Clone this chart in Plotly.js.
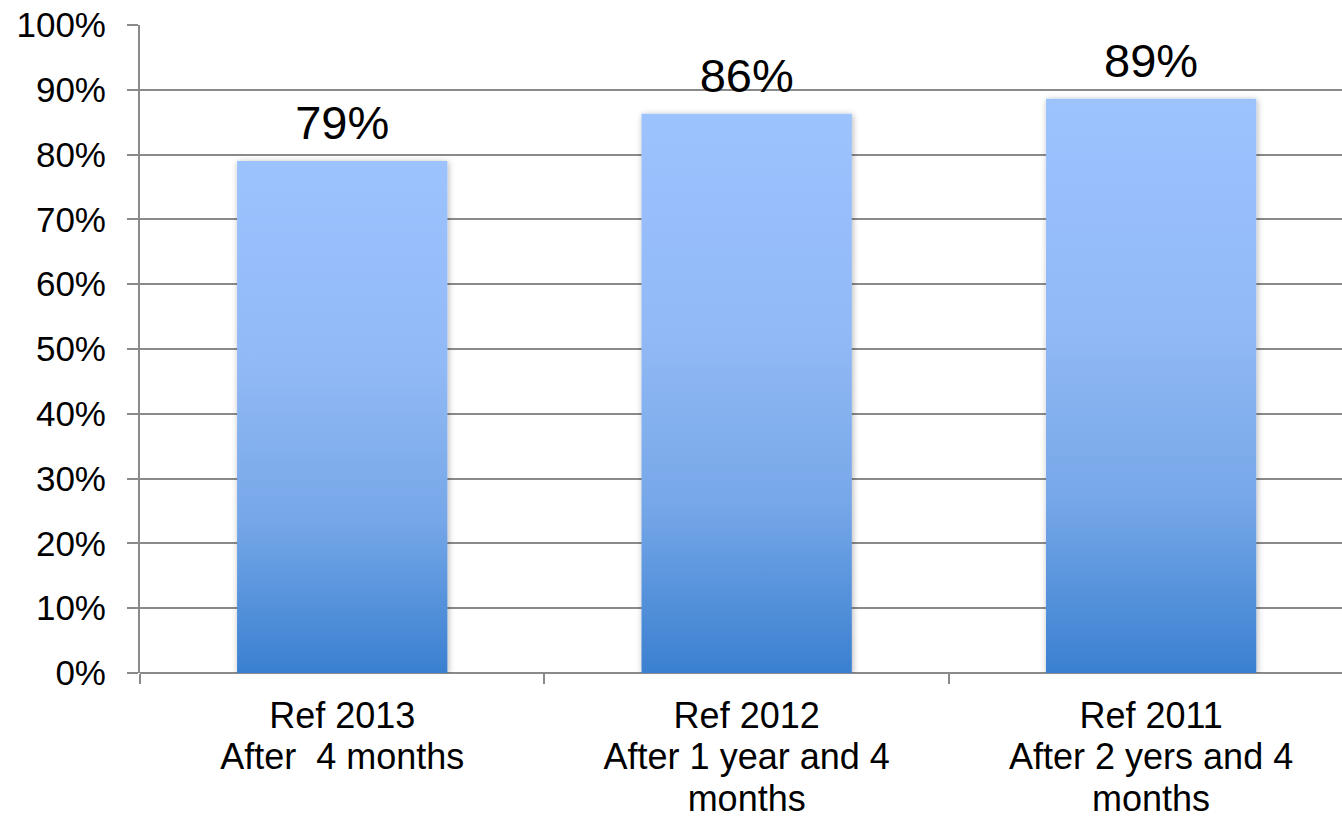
<!DOCTYPE html>
<html>
<head>
<meta charset="utf-8">
<script src="https://cdn.plot.ly/plotly-3.0.1.min.js"></script>
<style>
  html, body { margin: 0; padding: 0; background: #ffffff; }
  #chart { width: 1342px; height: 817px; }
</style>
</head>
<body>
<div id="chart"></div>
<script>
// Data
const categories = [
  "Ref 2013<br>After  4 months",
  "Ref 2012<br>After 1 year and 4<br>months",
  "Ref 2011<br>After 2 yers and 4<br>months"
];
const values = [0.79, 0.863, 0.886];
const valueLabels = ["79%", "86%", "89%"];
const yTickVals = [0, 0.1, 0.2, 0.3, 0.4, 0.5, 0.6, 0.7, 0.8, 0.9, 1.0];
const yTickText = ["0%", "10%", "20%", "30%", "40%", "50%", "60%", "70%", "80%", "90%", "100%"];

const FONT = "Liberation Sans, Arial, sans-serif";
const GRID = "#8a8a8a";

const trace = {
  type: "bar",
  x: categories,
  y: values,
  text: valueLabels,
  textposition: "outside",
  textfont: { family: FONT, size: 47, color: "#000000" },
  cliponaxis: false,
  width: 0.52,
  marker: { color: "#7fb0f0", line: { width: 0 } },
  hoverinfo: "none"
};

const layout = {
  width: 1342,
  height: 817,
  margin: { l: 140, r: 0, t: 25, b: 144 },
  paper_bgcolor: "#ffffff",
  plot_bgcolor: "#ffffff",
  showlegend: false,
  font: { family: FONT, color: "#000000" },
  xaxis: {
    type: "category",
    range: [-0.5, 2.472],
    tickson: "boundaries",
    ticks: "outside",
    ticklen: 10,
    tickwidth: 2,
    tickcolor: GRID,
    showline: false,
    showgrid: false,
    zeroline: false,
    tickfont: { family: FONT, size: 36, color: "#000000" },
    ticklabelstandoff: 18
  },
  yaxis: {
    range: [0, 1.0],
    tickvals: yTickVals,
    ticktext: yTickText,
    ticks: "outside",
    ticklen: 11,
    tickwidth: 2,
    tickcolor: GRID,
    showline: true,
    linecolor: GRID,
    linewidth: 2,
    showgrid: true,
    gridcolor: GRID,
    gridwidth: 2,
    zeroline: true,
    zerolinecolor: GRID,
    zerolinewidth: 2,
    tickfont: { family: FONT, size: 35, color: "#000000" },
    ticklabelstandoff: 14
  }
};

Plotly.newPlot("chart", [trace], layout, { staticPlot: true, displayModeBar: false }).then(function () {
  const svgNS = "http://www.w3.org/2000/svg";
  const svg = document.querySelector("#chart .main-svg");
  let defs = svg.querySelector("defs");
  if (!defs) { defs = document.createElementNS(svgNS, "defs"); svg.insertBefore(defs, svg.firstChild); }
  const grad = document.createElementNS(svgNS, "linearGradient");
  grad.setAttribute("id", "barGrad");
  grad.setAttribute("x1", "0"); grad.setAttribute("y1", "0");
  grad.setAttribute("x2", "0"); grad.setAttribute("y2", "1");
  [["0%", "#9DC3FF"], ["40%", "#91B9F5"], ["70%", "#76A7E8"], ["100%", "#3A80D0"]].forEach(function (s) {
    const st = document.createElementNS(svgNS, "stop");
    st.setAttribute("offset", s[0]);
    st.setAttribute("stop-color", s[1]);
    grad.appendChild(st);
  });
  defs.appendChild(grad);
  const filt = document.createElementNS(svgNS, "filter");
  filt.setAttribute("id", "barShadow");
  filt.setAttribute("x", "-10%"); filt.setAttribute("y", "-10%");
  filt.setAttribute("width", "120%"); filt.setAttribute("height", "120%");
  const ds = document.createElementNS(svgNS, "feDropShadow");
  ds.setAttribute("dx", "1"); ds.setAttribute("dy", "1");
  ds.setAttribute("stdDeviation", "3");
  ds.setAttribute("flood-color", "#000000");
  ds.setAttribute("flood-opacity", "0.3");
  filt.appendChild(ds);
  defs.appendChild(filt);
  document.querySelectorAll("#chart .trace.bars .point path").forEach(function (p) {
    p.style.fill = "url(#barGrad)";
    p.style.fillOpacity = "1";
    p.setAttribute("filter", "url(#barShadow)");
  });
  // lift value labels a little above the bars
  document.querySelectorAll("#chart .trace.bars .point text").forEach(function (t) {
    const tr = t.getAttribute("transform") || "";
    t.setAttribute("transform", "translate(0,-9) " + tr);
  });
  // tighter line spacing for category labels (scale Plotly's own dy values)
  document.querySelectorAll("#chart .xtick text tspan.line").forEach(function (ts) {
    const dy = ts.getAttribute("dy");
    if (dy && /em$/.test(dy)) {
      const n = parseFloat(dy);
      if (!isNaN(n) && n !== 0) ts.setAttribute("dy", (n * 1.15 / 1.3).toFixed(3) + "em");
    }
  });
});
</script>
</body>
</html>
